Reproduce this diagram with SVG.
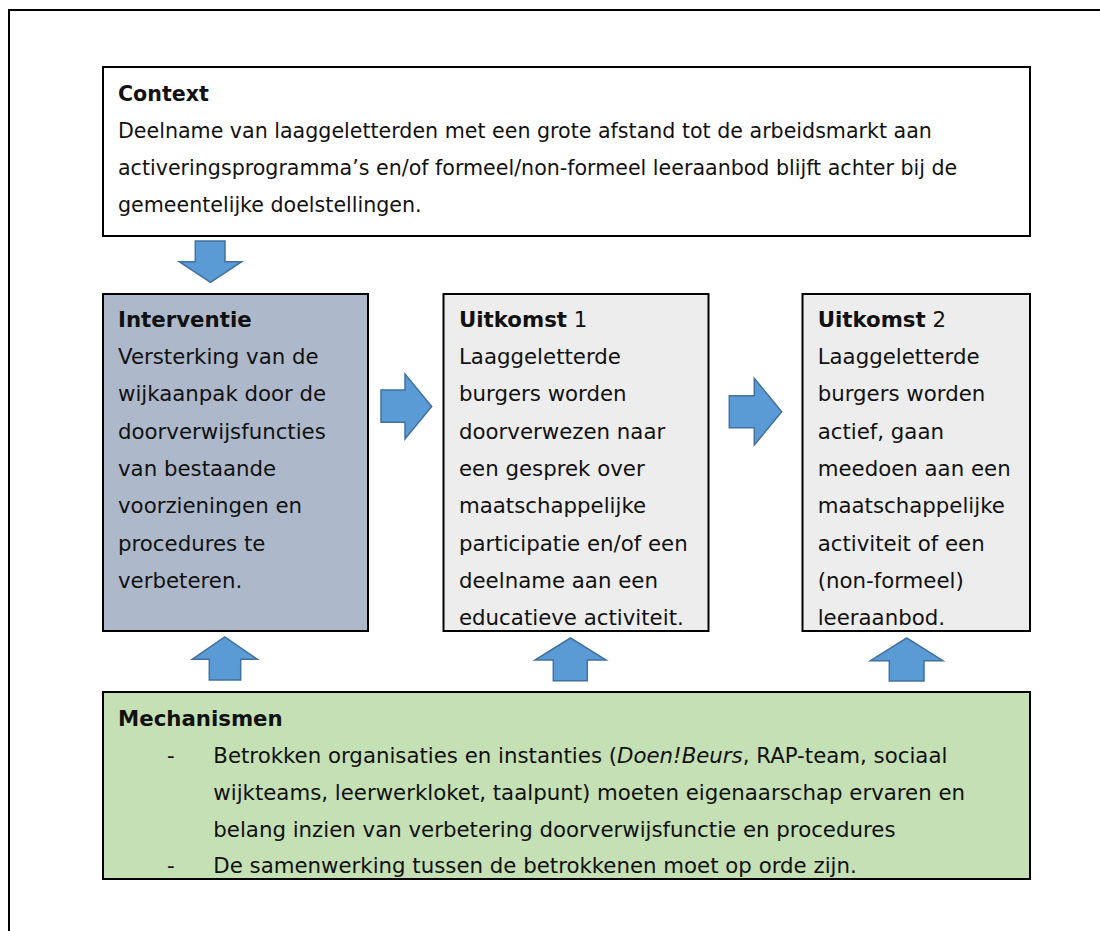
<svg xmlns="http://www.w3.org/2000/svg" width="1100" height="931" viewBox="0 0 1100 931">
<style>
text { font-family: "DejaVu Sans", Verdana, sans-serif; font-size: 21.3px; fill: #111; }
#context text { font-size: 20.6px; }
.b { font-weight: bold; }
.i { font-style: italic; }
.box { stroke: #000; stroke-width: 2; }
.arr { fill: #5B9BD5; stroke: #41719C; stroke-width: 1.5; stroke-linejoin: miter; }
</style>
<rect width="1100" height="931" fill="#fff"/>
<path d="M9 931 V10 H1100" fill="none" stroke="#000" stroke-width="2"/>

<g id="context">
<rect class="box" x="103" y="67" width="927" height="169" fill="#fff"/>
<text x="118" y="100.5" class="b">Context</text>
<text x="118" y="137.5">Deelname van laaggeletterden met een grote afstand tot de arbeidsmarkt aan</text>
<text x="118" y="174.5">activeringsprogramma’s en/of formeel/non-formeel leeraanbod blijft achter bij de</text>
<text x="118" y="211.5">gemeentelijke doelstellingen.</text>
</g>

<g id="interventie">
<rect class="box" x="103" y="294" width="265" height="337" fill="#ADB9CA"/>
<text x="118" y="326.7" class="b">Interventie</text>
<text x="118" y="364">Versterking van de</text>
<text x="118" y="401.3">wijkaanpak door de</text>
<text x="118" y="438.6">doorverwijsfuncties</text>
<text x="118" y="475.9">van bestaande</text>
<text x="118" y="513.2">voorzieningen en</text>
<text x="118" y="550.5">procedures te</text>
<text x="118" y="587.8">verbeteren.</text>
</g>

<g id="uitkomst1">
<rect class="box" x="443.5" y="294" width="265" height="337" fill="#EDEDED"/>
<text x="459" y="326.7"><tspan class="b">Uitkomst</tspan> 1</text>
<text x="459" y="364">Laaggeletterde</text>
<text x="459" y="401.3">burgers worden</text>
<text x="459" y="438.6">doorverwezen naar</text>
<text x="459" y="475.9">een gesprek over</text>
<text x="459" y="513.2">maatschappelijke</text>
<text x="459" y="550.5">participatie en/of een</text>
<text x="459" y="587.8">deelname aan een</text>
<text x="459" y="625.1">educatieve activiteit.</text>
</g>

<g id="uitkomst2">
<rect class="box" x="802.5" y="294" width="227.5" height="337" fill="#EDEDED"/>
<text x="817.7" y="326.7"><tspan class="b">Uitkomst</tspan> 2</text>
<text x="817.7" y="364">Laaggeletterde</text>
<text x="817.7" y="401.3">burgers worden</text>
<text x="817.7" y="438.6">actief, gaan</text>
<text x="817.7" y="475.9">meedoen aan een</text>
<text x="817.7" y="513.2">maatschappelijke</text>
<text x="817.7" y="550.5">activiteit of een</text>
<text x="817.7" y="587.8">(non-formeel)</text>
<text x="817.7" y="625.1">leeraanbod.</text>
</g>

<g id="mechanismen">
<rect class="box" x="103" y="692" width="927" height="187" fill="#C5E0B4"/>
<text x="118" y="726" class="b">Mechanismen</text>
<text x="167" y="762.7">-</text>
<text x="213.3" y="762.7">Betrokken organisaties en instanties (<tspan class="i">Doen!Beurs</tspan>, RAP-team, sociaal</text>
<text x="213.3" y="799.6">wijkteams, leerwerkloket, taalpunt) moeten eigenaarschap ervaren en</text>
<text x="213.3" y="836.5">belang inzien van verbetering doorverwijsfunctie en procedures</text>
<text x="167" y="873.4">-</text>
<text x="213.3" y="873.4">De samenwerking tussen de betrokkenen moet op orde zijn.</text>
</g>

<g id="connectors">
<path class="arr" d="M195.3 241 H225 V261.7 H241.7 L210.5 282.3 L179.3 261.7 H195.3 Z"/>
<path class="arr" d="M381 390 H405 V374 L431.7 406.5 L405 439 V422.3 H381 Z"/>
<path class="arr" d="M729.3 395.7 H754.3 V378.3 L781.7 411.7 L754.3 445 V427.7 H729.3 Z"/>
<path class="arr" d="M209.3 680 V659.3 H192.3 L224.8 637 L257.3 659.3 H240.7 V680 Z"/>
<path class="arr" d="M553.3 680.7 V660 H535 L570.5 638 L606 660 H587.3 V680.7 Z"/>
<path class="arr" d="M889.3 681 V660.7 H870.4 L906.7 638 L942.9 660.7 H924 V681 Z"/>
</g>
</svg>
